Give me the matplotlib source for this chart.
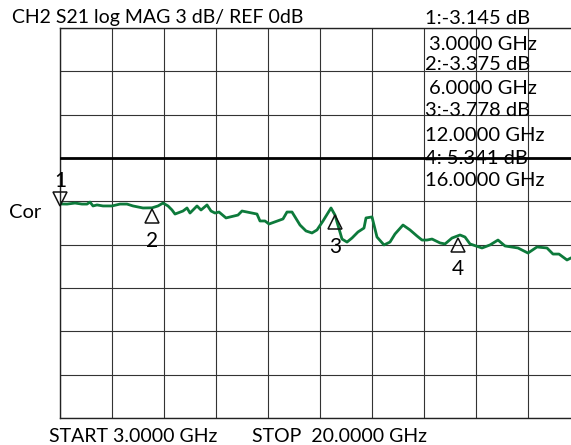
import matplotlib
matplotlib.use("Agg")
import matplotlib.pyplot as plt
import matplotlib.transforms as mtransforms
import numpy as np

# S21 trace (GHz, dB)
freq_ghz = [
    3.000, 3.229, 3.490, 3.719, 3.883, 3.981, 4.079, 4.210, 4.406, 4.700,
    4.962, 5.190, 5.387, 5.713, 6.008, 6.204, 6.367, 6.531, 6.662, 6.760,
    7.021, 7.152, 7.250, 7.479, 7.610, 7.806, 7.937, 8.067, 8.198, 8.427,
    8.819, 8.950, 9.440, 9.538, 9.702, 9.833, 10.290, 10.421, 10.585, 10.846,
    11.042, 11.238, 11.402, 11.598, 11.860, 11.990, 12.219, 12.383, 12.546, 12.742,
    12.938, 13.004, 13.200, 13.363, 13.592, 13.788, 13.952, 14.213, 14.442, 14.671,
    14.835, 14.998, 15.162, 15.423, 15.587, 15.815, 16.077, 16.240, 16.404, 16.796,
    17.058, 17.319, 17.548, 17.973, 18.300, 18.594, 18.921, 19.117, 19.313, 19.575,
    19.706,
]
s21_db = [
    -3.18, -3.19, -3.12, -3.19, -3.19, -3.05, -3.32, -3.25, -3.32, -3.32,
    -3.19, -3.19, -3.32, -3.46, -3.45, -3.32, -3.12, -3.32, -3.60, -3.88,
    -3.67, -3.46, -3.81, -3.32, -3.60, -3.25, -3.67, -3.81, -3.74, -4.15,
    -3.95, -3.67, -3.88, -4.36, -4.36, -4.57, -4.22, -3.74, -3.74, -4.64,
    -5.05, -5.19, -4.98, -4.36, -3.46, -3.95, -5.61, -5.82, -5.54, -5.12,
    -4.85, -4.15, -4.08, -5.47, -6.02, -5.82, -5.26, -4.64, -4.98, -5.40,
    -5.68, -5.68, -5.61, -5.88, -5.95, -5.54, -5.33, -5.47, -5.95, -6.23,
    -6.02, -5.68, -6.09, -6.23, -6.58, -6.16, -6.23, -6.65, -6.65, -7.06,
    -6.92,
]

marker_ids = ["1", "2", "3", "4"]
marker_freq = [3.0, 6.0, 12.0, 16.0]
marker_db = [-3.145, -3.375, -3.778, -5.341]
marker_text = [
    "1:-3.145 dB", "3.0000 GHz",
    "2:-3.375 dB", "6.0000 GHz",
    "3:-3.778 dB", "12.0000 GHz",
    "4: 5.341 dB", "16.0000 GHz",
]

start_ghz, stop_ghz = 3.0, 20.0
ref_db, scale_db = 0.0, 3.0

W, H = 571, 445
plt.rcParams["font.family"] = ["Lato", "DejaVu Sans"]
fig = plt.figure(figsize=(W / 100, H / 100), dpi=100)


def px(x, y):
    return x / W, 1 - y / H


# grid box: 10 x-divisions (right edge falls off the screen), 9 y-divisions
ax = fig.add_axes([60 / W, 27 / H, 520 / W, 390 / H])
ax.set_xlim(start_ghz, stop_ghz)
ax.set_ylim(ref_db - 6 * scale_db, ref_db + 3 * scale_db)
ax.set_xticks(np.linspace(start_ghz, stop_ghz, 11))
ax.set_yticks(np.arange(ref_db - 6 * scale_db, ref_db + 3 * scale_db + 0.1, scale_db))
ax.grid(True, color="#333333", lw=0.8)
ax.tick_params(length=0, labelbottom=False, labelleft=False)
for side in ["left", "top", "bottom"]:
    ax.spines[side].set_color("#222222")
    ax.spines[side].set_linewidth(1.0)
ax.spines["right"].set_visible(False)

ax.axhline(ref_db, color="black", lw=2.0, zorder=3)
ax.plot(freq_ghz, s21_db, color="#0d7a3b", lw=2.0, zorder=4)

# marker triangles, shifted a few points off the marker value
tri_kw = dict(ls="none", ms=10.5, mfc="none", mec="#111111", mew=1.1,
              zorder=5, clip_on=False)
for mid, f, v in zip(marker_ids, marker_freq, marker_db):
    if mid == "1":
        tr = mtransforms.offset_copy(ax.transData, fig=fig, x=0, y=3, units="points")
        ax.plot([f], [v], marker="v", transform=tr, **tri_kw)
        ax.annotate(mid, (f, v), xytext=(0, 11.5), textcoords="offset points",
                    ha="center", va="baseline", fontsize=15, zorder=5)
    else:
        tr = mtransforms.offset_copy(ax.transData, fig=fig, x=0, y=-7, units="points")
        ax.plot([f], [v], marker="^", transform=tr, **tri_kw)
        ax.annotate(mid, (f, v), xytext=(0, -28.8), textcoords="offset points",
                    ha="center", va="baseline", fontsize=15, zorder=5)

fs = 14
fig.text(*px(12, 17), "CH2 S21 log MAG 3 dB/ REF 0dB", fontsize=fs, va="center")
fig.text(*px(9, 213), "Cor", fontsize=fs + 0.5, va="center")

ys = [19, 44, 65, 89, 110, 135, 158, 181]
xs = [425, 429, 425, 429, 425, 425, 425, 425]
for t, x, y in zip(marker_text, xs, ys):
    fig.text(*px(x, y), t, fontsize=fs + 0.5, va="center")

fig.text(*px(49, 437), "START 3.0000 GHz", fontsize=fs, va="center")
fig.text(*px(252, 437), "STOP  20.0000 GHz", fontsize=fs, va="center")

fig.savefig("out.png", dpi=100)
